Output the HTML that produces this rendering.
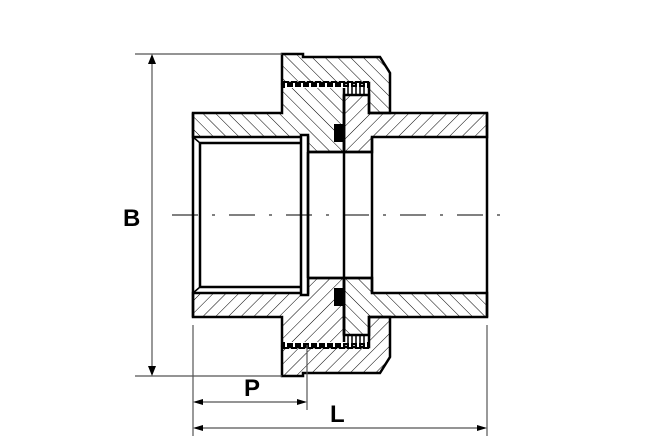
<!DOCTYPE html>
<html><head><style>html,body{margin:0;padding:0;background:#fff}svg{display:block}</style></head>
<body>
<svg width="645" height="443" viewBox="0 0 645 443" xmlns="http://www.w3.org/2000/svg">
<defs>
<pattern id="hb" patternUnits="userSpaceOnUse" width="9" height="9" patternTransform="rotate(-45)"><line x1="0" y1="0" x2="0" y2="9" stroke="#000" stroke-width="1"/></pattern>
<pattern id="hf" patternUnits="userSpaceOnUse" width="9" height="9" patternTransform="rotate(45)"><line x1="0" y1="0" x2="0" y2="9" stroke="#000" stroke-width="1"/></pattern>
<g id="half">
  <polygon points="282,54 303,54 303,57 380,57 390,73 390,113 369,113 369,83 282,83" fill="url(#hb)" stroke="#000" stroke-width="2.5"/>
  <polygon points="193,113 282,113 282,85 344,85 344,152 308,152 308,137 193,137" fill="url(#hb)" stroke="#000" stroke-width="2.5"/>
  <polygon points="344,95 369,95 369,113 487,113 487,137 372,137 372,152 344,152" fill="url(#hf)" stroke="#000" stroke-width="2.5"/>
  <path d="M284,88 v-6 h4 v4 h4 v-4 h4 v4 h4 v-4 h4 v4 h4 v-4 h4 v4 h4 v-4 h4 v4 h4 v-4 h4 v4 h4 v-4 h4 v4 h4 v-4 h4 v4 h4 v-4 h4 v4 h4 v-4 h4 v4 h4 v-4 h4 v6" fill="#fff" stroke="#000" stroke-width="2"/>
  <path d="M348,86 v8 M352,86 v8 M356,86 v8 M360,86 v8 M364,86 v8" stroke="#000" stroke-width="1.5"/>
  <rect x="334" y="124" width="10" height="18" fill="#000"/>
  <line x1="193" y1="137" x2="200" y2="143" stroke="#000" stroke-width="1.5"/>
  <line x1="200" y1="143" x2="301" y2="143" stroke="#000" stroke-width="2.5"/>
  <line x1="200" y1="137" x2="301" y2="137" stroke="#000" stroke-width="1"/>
</g>
</defs>
<rect width="645" height="443" fill="#fff"/>
<use href="#half"/>
<use href="#half" transform="translate(0,430) scale(1,-1)"/>
<g stroke="#000" stroke-width="2.5" fill="none">
  <line x1="193" y1="113" x2="193" y2="317"/>
  <line x1="200" y1="143" x2="200" y2="287"/>
  <rect x="301" y="135" width="7" height="160" fill="#fff"/>
  <line x1="308" y1="152" x2="308" y2="278"/>
  <line x1="344" y1="95" x2="344" y2="335"/>
  <line x1="372" y1="137" x2="372" y2="293"/>
  <line x1="487" y1="113" x2="487" y2="317"/>
  <line x1="308" y1="152" x2="372" y2="152"/>
  <line x1="308" y1="278" x2="372" y2="278"/>
</g>
<line x1="172" y1="215" x2="510" y2="215" stroke="#000" stroke-width="1" stroke-dasharray="26,14,3,14"/>
<g stroke="#555" stroke-width="1.2" fill="none">
  <line x1="135" y1="54" x2="282" y2="54"/>
  <line x1="135" y1="376" x2="282" y2="376"/>
  <line x1="152" y1="56" x2="152" y2="374"/>
  <line x1="193" y1="325" x2="193" y2="436"/>
  <line x1="307" y1="345" x2="307" y2="410"/>
  <line x1="487" y1="325" x2="487" y2="436"/>
  <line x1="195" y1="402" x2="305" y2="402"/>
  <line x1="195" y1="428" x2="485" y2="428"/>
</g>
<g fill="#000">
  <polygon points="152,54 148,64 156,64"/>
  <polygon points="152,376 148,366 156,366"/>
  <polygon points="193,402 203,399 203,405"/>
  <polygon points="307,402 297,399 297,405"/>
  <polygon points="193,428 203,425 203,431"/>
  <polygon points="487,428 477,425 477,431"/>
</g>
<g font-family="Liberation Sans, sans-serif" font-weight="bold" font-size="24" fill="#000">
  <text x="123" y="226">B</text>
  <text x="244" y="396">P</text>
  <text x="330" y="422">L</text>
</g>
</svg>
</body></html>
